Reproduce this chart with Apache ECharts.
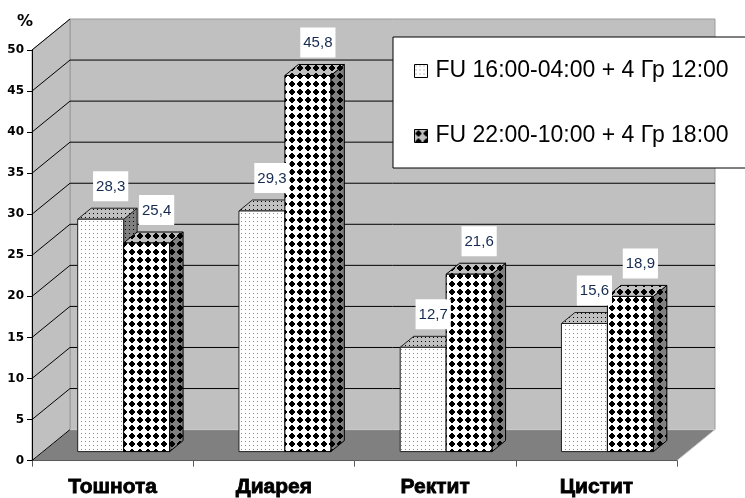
<!DOCTYPE html>
<html>
<head>
<meta charset="utf-8">
<script src="https://cdn.jsdelivr.net/npm/echarts@6/dist/echarts.min.js"></script>
<style>
  html, body { margin: 0; padding: 0; background: #fff; }
  #chart { width: 745px; height: 498px; }
</style>
</head>
<body>
<div id="chart"></div>
<script>
// Categories and values (percent)
const categories = ['Тошнота', 'Диарея', 'Ректит', 'Цистит'];
const seriesNames = ['FU 16:00-04:00 + 4 Гр 12:00', 'FU 22:00-10:00 + 4 Гр 18:00'];
const valuesA = [28.3, 29.3, 12.7, 15.6];
const valuesB = [25.4, 45.8, 21.6, 18.9];
const yTicks = [0, 5, 10, 15, 20, 25, 30, 35, 40, 45, 50];

// Pseudo-3D projection: offset of the back wall relative to the front plane
const DEPTH_X = 38, DEPTH_Y = 31;
const BAR_FRONT = 0.29, BAR_BACK = 0.645;   // depth fractions of bar faces
const BAR_FRAC = 0.285;                      // bar width as share of category band

// Fill patterns drawn on small canvas tiles
function tile(size, bg, draw) {
  const c = document.createElement('canvas');
  c.width = c.height = size;
  const g = c.getContext('2d');
  g.fillStyle = bg;
  g.fillRect(0, 0, size, size);
  draw(g);
  return { image: c, repeat: 'repeat' };
}
function dots(bg, dot) {
  return tile(4, bg, g => { g.fillStyle = dot; g.fillRect(1, 1, 1, 1); });
}
function diamonds(bg) {
  return tile(8, bg, g => {
    g.fillStyle = '#000';
    g.fillRect(3, 1, 2, 6);
    g.fillRect(1, 3, 6, 2);
    g.fillRect(2, 2, 4, 4);
  });
}
const fills = [
  { front: dots('#ffffff', '#8a8a8a'), top: dots('#c0c0c0', '#000'), side: dots('#808080', '#000'), edge: '#202020' },
  { front: diamonds('#ffffff'), top: diamonds('#c0c0c0'), side: diamonds('#808080'), edge: '#000' }
];

function fmt(v) { return v.toFixed(1).replace('.', ','); }

// Walls and floor of the box
function renderWalls(params, api) {
  const cs = params.coordSys;
  const x0 = cs.x, x1 = cs.x + cs.width, yTop = cs.y, yBot = cs.y + cs.height;
  const bx0 = x0 + DEPTH_X, bx1 = x1 + DEPTH_X, byTop = yTop - DEPTH_Y, byBot = yBot - DEPTH_Y;
  return {
    type: 'group',
    children: [
      { type: 'rect', shape: { x: bx0, y: byTop, width: bx1 - bx0, height: byBot - byTop },
        style: { fill: '#c0c0c0', stroke: '#9a9a9a', lineWidth: 1 } },
      { type: 'polygon', shape: { points: [[x0, yTop], [bx0, byTop], [bx0, byBot], [x0, yBot]] },
        style: { fill: '#c0c0c0', stroke: '#9a9a9a', lineWidth: 1 } },
      { type: 'polygon', shape: { points: [[x0, yBot], [bx0, byBot], [bx1, byBot], [x1, yBot]] },
        style: { fill: '#808080', stroke: '#d0d0d0', lineWidth: 1 } }
    ]
  };
}

// Gridlines on the left wall and the back wall, one per axis tick
function renderGrid(params, api) {
  const cs = params.coordSys;
  const v = api.value(0);
  const y = api.coord([0, v])[1];
  const x0 = cs.x, bx0 = x0 + DEPTH_X, bx1 = cs.x + cs.width + DEPTH_X;
  const children = [
    { type: 'line', shape: { x1: x0, y1: y, x2: bx0, y2: y - DEPTH_Y },
      style: { stroke: '#000', lineWidth: 1 } }
  ];
  if (v > 0 && v < 50) {
    children.push({ type: 'line', shape: { x1: bx0, y1: y - DEPTH_Y, x2: bx1, y2: y - DEPTH_Y },
      style: { stroke: '#000', lineWidth: 1 } });
  }
  return { type: 'group', children };
}

// Front-face geometry of a column of series s
function columnBox(s, api) {
  const c = api.value(0), v = api.value(1);
  const base = api.coord([c, 0]);
  const top = api.coord([c, v]);
  const band = api.size([1, 0])[0];
  const w = band * BAR_FRAC;
  return {
    v, w,
    x0: base[0] + (s === 0 ? -w : 0) + DEPTH_X * BAR_FRONT,
    yb: base[1] - DEPTH_Y * BAR_FRONT,
    yt: top[1] - DEPTH_Y * BAR_FRONT,
    dx: DEPTH_X * (BAR_BACK - BAR_FRONT),
    dy: DEPTH_Y * (BAR_BACK - BAR_FRONT)
  };
}

// 3D column for one series
function barRenderer(s) {
  return function (params, api) {
    const { w, x0, yb, yt, dx, dy } = columnBox(s, api);
    const f = fills[s];
    const edge = { stroke: f.edge, lineWidth: 1 };
    return {
      type: 'group',
      children: [
        { type: 'polygon', shape: { points: [[x0 + w, yt], [x0 + w + dx, yt - dy], [x0 + w + dx, yb - dy], [x0 + w, yb]] },
          style: Object.assign({ fill: f.side }, edge) },
        { type: 'polygon', shape: { points: [[x0, yt], [x0 + w, yt], [x0 + w + dx, yt - dy], [x0 + dx, yt - dy]] },
          style: Object.assign({ fill: f.top }, edge) },
        { type: 'rect', shape: { x: x0, y: yt, width: w, height: yb - yt },
          style: Object.assign({ fill: f.front }, edge) }
      ]
    };
  };
}

// Value label above a column, kept above every column
function labelRenderer(s) {
  return function (params, api) {
    const { v, w, x0, yt } = columnBox(s, api);
    return {
      type: 'text', x: x0 + w / 2 + 10, y: yt - 18,
      style: { text: fmt(v), fill: '#152a50', font: '15px "Liberation Sans", Arial, sans-serif',
        align: 'center', verticalAlign: 'bottom', backgroundColor: '#fff', padding: [8, 3, 7, 3] }
    };
  };
}

const chart = echarts.init(document.getElementById('chart'), null, { renderer: 'canvas' });
chart.setOption({
  animation: false,
  backgroundColor: '#ffffff',
  title: { text: '%', left: 17, top: 14, padding: 0,
    textStyle: { fontSize: 16, fontWeight: 'bold', color: '#000', fontFamily: '"DejaVu Sans", sans-serif' } },
  legend: {
    orient: 'vertical', left: 393, top: 37,
    data: seriesNames,
    backgroundColor: '#fff', borderColor: '#000', borderWidth: 1,
    padding: [22, 24, 20, 21],
    itemGap: 41, itemWidth: 13, itemHeight: 13, icon: 'rect',
    itemStyle: { borderColor: '#000', borderWidth: 1 },
    textStyle: { fontSize: 23, lineHeight: 24, color: '#000',
      fontFamily: '"Liberation Sans", Arial, sans-serif', padding: [0, 0, 0, 3] }
  },
  grid: { left: 32, right: 68, top: 50, bottom: 36 },
  xAxis: {
    type: 'category', data: categories,
    axisLine: { show: true, lineStyle: { color: '#5a5a5a', width: 1 } },
    axisTick: { show: true, length: 6, lineStyle: { color: '#5a5a5a' } },
    axisLabel: { margin: 16, color: '#000', fontSize: 21, fontWeight: 'bold',
      fontFamily: '"Liberation Sans", Arial, sans-serif', textBorderColor: '#000', textBorderWidth: 0.8 },
    splitLine: { show: false }
  },
  yAxis: {
    type: 'value', min: 0, max: 50, interval: 5,
    axisLine: { show: true, lineStyle: { color: '#000', width: 1 } },
    axisTick: { show: true, length: 5, lineStyle: { color: '#000' } },
    axisLabel: { margin: 8, color: '#000', fontSize: 12, fontWeight: 'bold',
      fontFamily: '"DejaVu Sans", sans-serif' },
    splitLine: { show: false }
  },
  series: [
    { type: 'custom', name: 'walls', z: 0, silent: true,
      renderItem: renderWalls, data: [[0]], encode: { y: 0 }, clip: false },
    { type: 'custom', name: 'grid', z: 1, silent: true,
      renderItem: renderGrid, data: yTicks.map(v => [v]), encode: { y: 0 }, clip: false },
    { type: 'custom', name: seriesNames[0], z: 2, clip: false,
      itemStyle: { color: fills[0].front },
      renderItem: barRenderer(0), data: valuesA.map((v, i) => [i, v]), encode: { x: 0, y: 1 } },
    { type: 'custom', name: seriesNames[1], z: 3, clip: false,
      itemStyle: { color: fills[1].top },
      renderItem: barRenderer(1), data: valuesB.map((v, i) => [i, v]), encode: { x: 0, y: 1 } },
    { type: 'custom', name: seriesNames[0], z: 5, clip: false, silent: true,
      itemStyle: { color: fills[0].front },
      renderItem: labelRenderer(0), data: valuesA.map((v, i) => [i, v]), encode: { x: 0, y: 1 } },
    { type: 'custom', name: seriesNames[1], z: 5, clip: false, silent: true,
      itemStyle: { color: fills[1].top },
      renderItem: labelRenderer(1), data: valuesB.map((v, i) => [i, v]), encode: { x: 0, y: 1 } }
  ]
});
</script>
</body>
</html>
